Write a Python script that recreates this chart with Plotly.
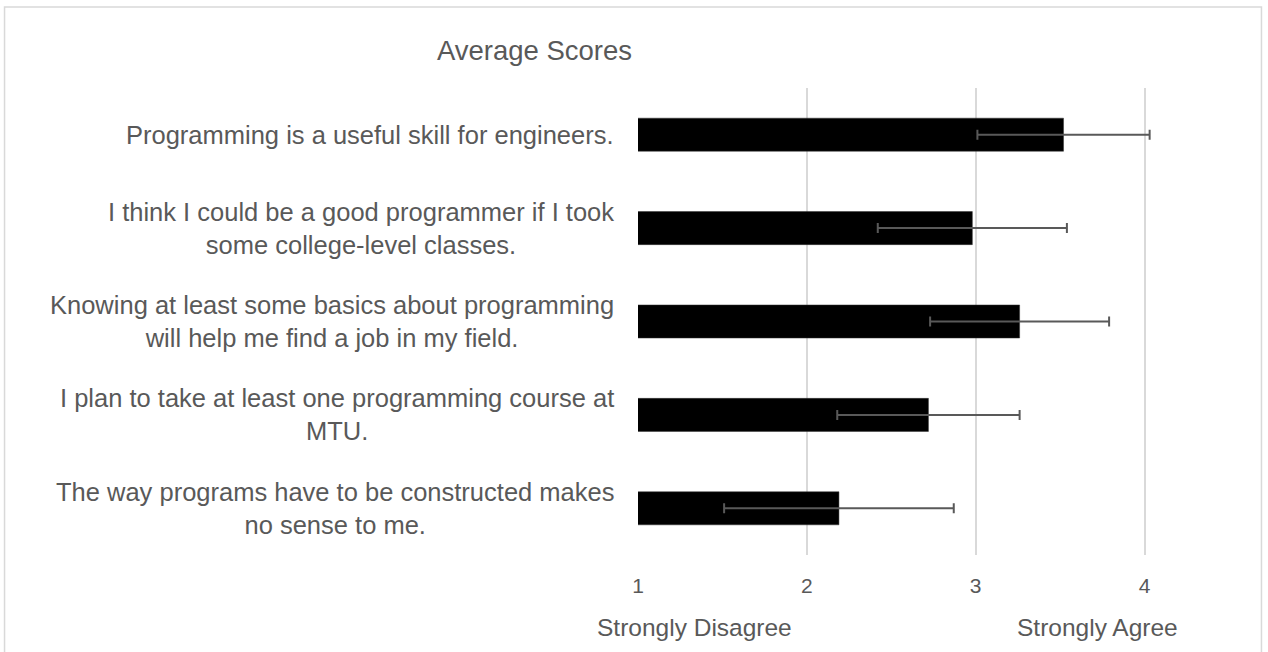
import plotly.graph_objects as go

categories = [
    "Programming is a useful skill for engineers.",
    "I think I could be a good programmer if I took<br>some college-level classes.",
    "Knowing at least some basics about programming<br>will help me find a job in my field.",
    "I plan to take at least one programming course at<br>MTU.",
    "The way programs have to be constructed makes<br>no sense to me.",
]
means = [3.52, 2.98, 3.26, 2.72, 2.19]
errors = [0.51, 0.56, 0.53, 0.54, 0.68]
tick_vals = [1, 2, 3, 4]
tick_text = ["1", "2", "3", "4"]
title_text = "Average Scores"
scale_labels = ["Strongly Disagree", "Strongly Agree"]

FONT = "Liberation Sans, Arial, Helvetica, sans-serif"
GRAY = "#595959"

W, H = 1268, 652
L, R, T, B = 638, 38.5, 88, 97.4

fig = go.Figure()
fig.add_trace(go.Bar(
    y=categories,
    x=means,
    orientation="h",
    marker=dict(color="#000000", line=dict(color="#333333", width=0.5)),
    error_x=dict(type="data", array=errors, visible=True, color=GRAY,
                 thickness=2, width=5),
    showlegend=False,
    hoverinfo="skip",
))

annotations = []
for c in categories:
    annotations.append(dict(
        xref="paper", yref="y", x=0, y=c, text=c, showarrow=False,
        xanchor="right", yanchor="middle", align="center", xshift=-22,
        font=dict(family=FONT, size=25.5, color=GRAY),
    ))

pw = W - L - R
ph = H - T - B
annotations.append(dict(
    xref="paper", yref="paper", x=(695 - L) / pw, y=-(627 - (H - B)) / ph,
    text=scale_labels[0], showarrow=False, xanchor="center", yanchor="middle",
    font=dict(family=FONT, size=24.5, color=GRAY),
))
annotations.append(dict(
    xref="paper", yref="paper", x=(1098 - L) / pw, y=-(627 - (H - B)) / ph,
    text=scale_labels[1], showarrow=False, xanchor="center", yanchor="middle",
    font=dict(family=FONT, size=24.5, color=GRAY),
))

fig.add_shape(
    type="rect", xref="paper", yref="paper",
    x0=(4 - L) / pw, x1=(1262 - L) / pw,
    y0=-0.3, y1=((H - B) - 7) / ph,
    line=dict(color="#d9d9d9", width=1.5), fillcolor="rgba(0,0,0,0)",
    layer="below",
)

fig.update_layout(
    width=W, height=H,
    margin=dict(l=L, r=R, t=T, b=B, pad=0),
    paper_bgcolor="white", plot_bgcolor="white",
    bargap=0.646,
    title=dict(text=title_text, x=534.5 / W, xref="container", xanchor="center",
               y=1 - 50 / H, yref="container", yanchor="middle",
               font=dict(family=FONT, size=27.5, color=GRAY)),
    xaxis=dict(range=[1, 4.5], tickvals=tick_vals, ticktext=tick_text,
               showgrid=True, gridcolor="#d9d9d9", gridwidth=1.5,
               zeroline=False, showline=False,
               ticks="outside", ticklen=12, tickcolor="rgba(0,0,0,0)",
               tickfont=dict(family=FONT, size=21, color=GRAY)),
    yaxis=dict(autorange="reversed", showticklabels=False, showgrid=False,
               zeroline=False, showline=False),
    annotations=annotations,
)

fig.write_html(
    "out.html",
    config={"displayModeBar": False},
    post_script="document.body.style.margin='0px';document.body.style.overflow='hidden';",
)
